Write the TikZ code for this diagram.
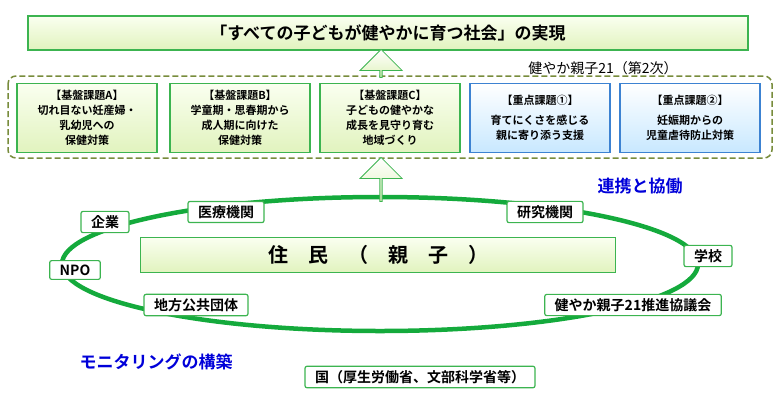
\documentclass[tikz,border=0pt]{standalone}
\usepackage{fontspec}
\setmainfont{Noto Sans CJK JP}[BoldFont={* Bold}]
\usetikzlibrary{shapes.arrows}
\definecolor{lg}{RGB}{225,243,190}
\definecolor{lgt}{RGB}{250,255,240}
\definecolor{gb}{RGB}{60,180,80}
\definecolor{olv}{RGB}{120,140,60}
\definecolor{bl}{RGB}{200,232,255}
\definecolor{blb}{RGB}{60,130,210}
\definecolor{eg}{RGB}{20,170,60}
\tikzset{
 gbox/.style={draw=gb,line width=1.2pt,top color=lgt,bottom color=lg,align=center,font=\bfseries\fontsize{11}{15}\selectfont,inner sep=0pt},
 bbox/.style={draw=blb,line width=1.2pt,top color=white,bottom color=bl,align=center,font=\bfseries\fontsize{11}{15}\selectfont,inner sep=0pt},
 wbox/.style={draw=gb,line width=1.2pt,fill=white,rounded corners=2pt,font=\bfseries\fontsize{14}{16}\selectfont,inner xsep=10pt,inner ysep=4pt},
 uparrow/.style={single arrow,shape border rotate=90,draw=gb,line width=0.8pt,top color=white,bottom color=lg,minimum width=42pt,single arrow head extend=7pt,inner sep=0pt}
}
\begin{document}
\begin{tikzpicture}[x=1pt,y=-1pt]
\useasboundingbox (0,0) rectangle (781,402);
% ellipse
\draw[eg,line width=4.5pt] (380,264) ellipse [x radius=318,y radius=67];
% title
\node[gbox,minimum width=720pt,minimum height=34pt,font=\bfseries\fontsize{17}{19}\selectfont] (title) at (388,33) {「すべての子どもが健やかに育つ社会」の実現};
% dashed group
\draw[olv,dashed,line width=1.5pt,dash pattern=on 6pt off 3pt,rounded corners=8pt] (8,76) rectangle (772,158);
\node[font=\fontsize{14}{16}\selectfont] (grp) at (603,68) {健やか親子21（第2次）};
% arrows
\node[uparrow,minimum height=28pt] (ar1) at (381,64) {};
\node[uparrow,minimum height=44pt] (ar2) at (381,180) {};
% five boxes
\node[gbox,minimum width=140pt,minimum height=69pt] (A) at (87,118) {【基盤課題A】\\切れ目ない妊産婦・\\乳幼児への\\保健対策};
\node[gbox,minimum width=140pt,minimum height=69pt] (B) at (240,118) {【基盤課題B】\\学童期・思春期から\\成人期に向けた\\保健対策};
\node[gbox,minimum width=140pt,minimum height=69pt] (C) at (390,118) {【基盤課題C】\\子どもの健やかな\\成長を見守り育む\\地域づくり};
\node[bbox,minimum width=140pt,minimum height=69pt] (D) at (540,118) {【重点課題①】\\[5pt]育てにくさを感じる\\親に寄り添う支援};
\node[bbox,minimum width=140pt,minimum height=69pt] (E) at (690,118) {【重点課題②】\\[5pt]妊娠期からの\\児童虐待防止対策};
% residents
\node[gbox,minimum width=475pt,minimum height=35pt,font=\bfseries\fontsize{20}{22}\selectfont] (res) at (378,255) {住\quad 民\quad （\quad 親\quad 子\quad ）};
% surrounding boxes
\node[wbox] (kigyo) at (105,222) {企業};
\node[wbox] (npo) at (75,270) {NPO};
\node[wbox] (iryo) at (226,212) {医療機関};
\node[wbox] (kenkyu) at (545,212) {研究機関};
\node[wbox] (gakko) at (708,256) {学校};
\node[wbox] (chiho) at (196,305) {地方公共団体};
\node[wbox] (kyo) at (633,305) {健やか親子21推進協議会};
\node[wbox] (kuni) at (420,377) {国（厚生労働省、文部科学省等）};
% labels
\node[text=blue!85!black,font=\bfseries\fontsize{17}{19}\selectfont] (renkei) at (640,186) {連携と協働};
\node[text=blue!85!black,font=\bfseries\fontsize{17}{19}\selectfont] (moni) at (156,362) {モニタリングの構築};
\end{tikzpicture}
\end{document}
